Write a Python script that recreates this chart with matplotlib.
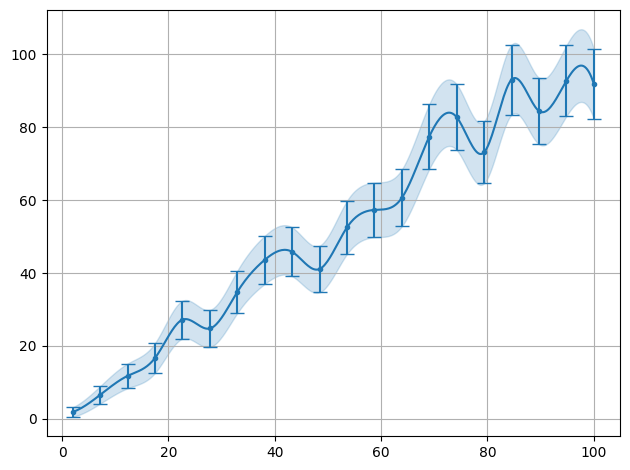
import matplotlib
matplotlib.use("Agg")
import matplotlib.pyplot as plt
import numpy as np

x = [2.0, 7.158, 12.316, 17.474, 22.632, 27.789, 32.947, 38.105, 43.263, 48.421,
     53.579, 58.737, 63.895, 69.053, 74.211, 79.368, 84.526, 89.684, 94.842, 100.0]
y = [1.9, 6.6, 11.8, 16.7, 27.2, 24.8, 34.8, 43.6, 45.8, 41.1,
     52.5, 57.3, 60.6, 77.4, 82.7, 73.1, 93.0, 84.4, 92.7, 91.8]
err = [1.3, 2.4, 3.4, 4.1, 5.2, 5.1, 5.8, 6.6, 6.7, 6.4,
       7.3, 7.5, 7.8, 8.9, 9.0, 8.5, 9.6, 9.1, 9.7, 9.6]


def spline(xs, ys, xnew):
    # cubic spline, not-a-knot ends
    xs = np.asarray(xs, float)
    ys = np.asarray(ys, float)
    n = len(xs)
    h = np.diff(xs)
    d = np.diff(ys) / h
    A = np.zeros((n, n))
    b = np.zeros(n)
    A[0, 0], A[0, 1], A[0, 2] = h[1], -(h[0] + h[1]), h[0]
    A[-1, -3], A[-1, -2], A[-1, -1] = h[-1], -(h[-2] + h[-1]), h[-2]
    for i in range(1, n - 1):
        A[i, i - 1] = h[i - 1]
        A[i, i] = 2 * (h[i - 1] + h[i])
        A[i, i + 1] = h[i]
        b[i] = 6 * (d[i] - d[i - 1])
    M = np.linalg.solve(A, b)
    idx = np.clip(np.searchsorted(xs, xnew) - 1, 0, n - 2)
    x0, x1 = xs[idx], xs[idx + 1]
    hh = h[idx]
    return (M[idx] * (x1 - xnew) ** 3 / (6 * hh)
            + M[idx + 1] * (xnew - x0) ** 3 / (6 * hh)
            + (ys[idx] / hh - M[idx] * hh / 6) * (x1 - xnew)
            + (ys[idx + 1] / hh - M[idx + 1] * hh / 6) * (xnew - x0))


xs = np.linspace(min(x), max(x), 400)
ys = spline(x, y, xs)
es = spline(x, err, xs)

fig, ax = plt.subplots(figsize=(6.3, 4.7), dpi=100)
ax.plot(xs, ys, color="tab:blue")
ax.fill_between(xs, ys - es, ys + es, color="tab:blue", alpha=0.2)
ax.errorbar(x, y, yerr=err, fmt=".", color="tab:blue", capsize=5)
ax.grid(True)
fig.subplots_adjust(left=0.074, right=0.984, top=0.979, bottom=0.072)
fig.savefig("out.png")
